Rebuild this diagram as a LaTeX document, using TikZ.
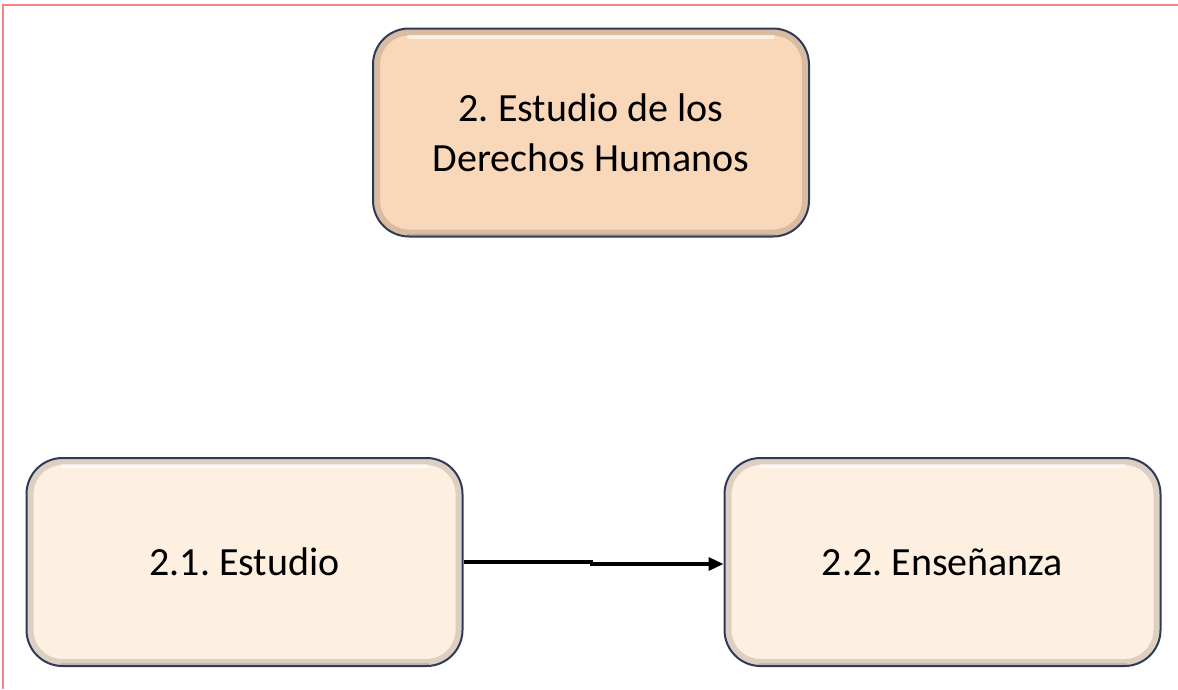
\documentclass[tikz,border=0pt]{standalone}
\usepackage{fontspec}
\setmainfont{Carlito}
\usetikzlibrary{positioning,arrows.meta}
\definecolor{durazno}{HTML}{F9D7B9}
\definecolor{crema}{HTML}{FEF0E1}
\definecolor{marino}{HTML}{2E3A59}
\definecolor{rosa}{HTML}{F88585}
\frenchspacing
\begin{document}
\begin{tikzpicture}[x=1pt,y=-1pt]
\tikzstyle{caja}=[rectangle, rounded corners=36pt, draw=marino, line width=2pt, minimum width=436pt, minimum height=208pt, align=center, inner sep=0pt, font=\fontsize{40}{50}\selectfont,
  path picture={
    \draw[line width=14pt, black, opacity=0.13, rounded corners=36pt] (path picture bounding box.south west) rectangle (path picture bounding box.north east);
    \draw[line width=6pt, black, opacity=0.12] ([xshift=34pt]path picture bounding box.south west) -- ([xshift=-34pt]path picture bounding box.south east);
    \draw[white, opacity=0.6, line width=4pt, line cap=round] ([xshift=36pt,yshift=-8pt]path picture bounding box.north west) -- ([xshift=-36pt,yshift=-8pt]path picture bounding box.north east);
  }]
\tikzstyle{flecha}=[line width=3.5pt, -{Triangle[length=15pt,width=13pt]}]
\useasboundingbox (0,0) rectangle (1178,689);
\draw[rosa, line width=2pt] (3,689) -- (3,5) -- (1178,5);
\node[caja, fill=durazno] (derechos) at (591,132.5) {2. Estudio de los\\Derechos Humanos};
\node[caja, fill=crema] (estudio) at (244.5,562) {2.1. Estudio};
\node[caja, fill=crema, right=260pt of estudio] (ensenanza) {2.2. Enseñanza};
\draw[flecha] (estudio.east) -- ++(128,0) |- ([yshift=-2pt]ensenanza.west);
\end{tikzpicture}
\end{document}
